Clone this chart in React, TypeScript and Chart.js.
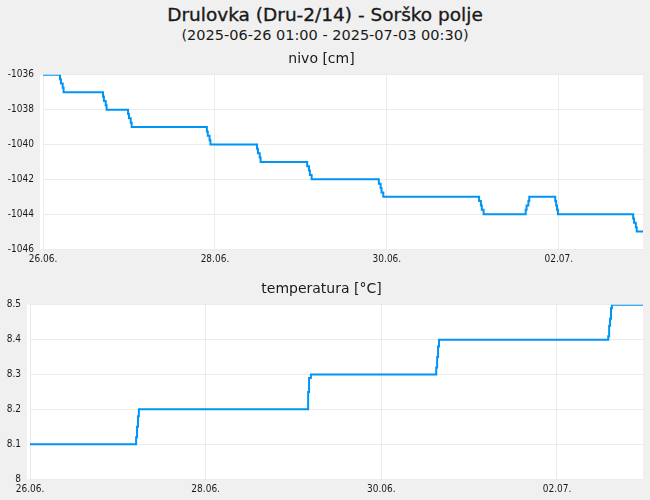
import { useEffect, useRef } from 'react';
import { Chart, registerables, type ChartConfiguration } from 'chart.js';

Chart.register(...registerables);

// hours counted from 2025-06-26 01:00
const tickHours = [0, 48, 96, 144];
const tickLabels = ['26.06.', '28.06.', '30.06.', '02.07.'];

const nivoHours = [
  0, 4.75, 5, 5.5, 5.75,
  16.75, 17, 17.5, 17.75,
  23.75, 24, 24.5, 24.75,
  45.75, 46, 46.5, 46.75,
  59.75, 60, 60.5, 60.75,
  73.75, 74.25, 74.5, 75,
  93.75, 94.25, 94.5, 95,
  121.75, 122.25, 122.5, 123,
  134.75, 135, 135.5, 135.75,
  143, 143.25, 143.5, 143.75,
  164.75, 165, 165.5, 165.75, 167.5,
];
const nivoValues = [
  -1036, -1036.25, -1036.5, -1036.75, -1037,
  -1037.25, -1037.5, -1037.75, -1038,
  -1038.25, -1038.5, -1038.75, -1039,
  -1039.25, -1039.5, -1039.75, -1040,
  -1040.25, -1040.5, -1040.75, -1041,
  -1041.25, -1041.5, -1041.75, -1042,
  -1042.25, -1042.5, -1042.75, -1043,
  -1043.25, -1043.5, -1043.75, -1044,
  -1043.75, -1043.5, -1043.25, -1043,
  -1043.25, -1043.5, -1043.75, -1044,
  -1044.25, -1044.5, -1044.75, -1045, -1045,
];

const tempHours = [
  0, 29, 29.25, 29.5, 29.75,
  76, 76.25, 76.75,
  111, 111.25, 111.5, 111.75,
  158, 158.25, 158.5, 158.75, 159, 167.5,
];
const tempValues = [
  8.1, 8.12, 8.15, 8.18, 8.2,
  8.25, 8.29, 8.3,
  8.32, 8.35, 8.38, 8.4,
  8.41, 8.44, 8.46, 8.49, 8.5, 8.5,
];

const LINE = '#0094f5';
const GRID = '#ebebeb';
const TEXT = '#1a1a1a';
const TICK_FONT = { family: '"DejaVu Sans Condensed", "DejaVu Sans", sans-serif', size: 10 };

const plotBg = {
  id: 'plotBg',
  beforeDraw(chart: Chart) {
    const { ctx, chartArea: { left, right, top, bottom } } = chart;
    ctx.save();
    ctx.fillStyle = '#ffffff';
    ctx.fillRect(left - 3, top, right - left + 3, bottom - top);
    ctx.restore();
  },
};

interface PanelProps {
  title: string;
  hours: number[];
  values: number[];
  yMin: number;
  yMax: number;
  yStep: number;
  yWidth: number;
  fmt: (v: number) => string;
  top: number;
  height: number;
  titlePad: { top: number; bottom: number };
  bottomPad: number;
}

function Panel({ title, hours, values, yMin, yMax, yStep, yWidth, fmt, top, height, titlePad, bottomPad }: PanelProps) {
  const ref = useRef<HTMLCanvasElement>(null);

  useEffect(() => {
    if (!ref.current) return;
    const config: ChartConfiguration<'line'> = {
      type: 'line',
      data: {
        datasets: [{
          data: hours.map((h, i) => ({ x: h, y: values[i] })),
          borderColor: LINE,
          borderWidth: 2,
          pointRadius: 0,
          stepped: true,
          fill: false,
        }],
      },
      options: {
        responsive: true,
        maintainAspectRatio: false,
        animation: false,
        layout: { padding: { left: 0, right: 7, top: 0, bottom: bottomPad } },
        plugins: {
          legend: { display: false },
          tooltip: { enabled: false },
          title: {
            display: true,
            text: title,
            color: TEXT,
            font: { family: '"DejaVu Sans", sans-serif', size: 14, weight: 'normal' },
            padding: titlePad,
          },
        },
        scales: {
          x: {
            type: 'linear',
            min: 0,
            max: 167.5,
            grid: { color: GRID, drawTicks: false },
            border: { display: false },
            afterBuildTicks: (s) => { s.ticks = tickHours.map(v => ({ value: v })); },
            ticks: {
              color: TEXT,
              font: TICK_FONT,
              padding: 4,
              maxRotation: 0,
              autoSkip: false,
              callback: (v) => tickLabels[tickHours.indexOf(Number(v))] ?? '',
            },
          },
          y: {
            min: yMin,
            max: yMax,
            grid: { color: GRID, drawTicks: false },
            border: { display: false },
            afterFit: (s) => { s.width = yWidth; },
            ticks: {
              stepSize: yStep,
              color: TEXT,
              font: TICK_FONT,
              padding: 9,
              callback: (v) => fmt(Number(v)),
            },
          },
        },
      },
      plugins: [plotBg],
    };
    const chart = new Chart(ref.current, config);
    return () => { chart.destroy(); };
  }, [title, hours, values, yMin, yMax, yStep, yWidth, fmt, titlePad, bottomPad]);

  return (
    <div style={{ position: 'absolute', left: 0, top, width: 650, height }}>
      <canvas ref={ref} />
    </div>
  );
}

const fmtInt = (v: number) => String(Math.round(v));
const fmtDec = (v: number) => String(Number(v.toFixed(1)));
const padA = { top: 5, bottom: 7 };
const padB = { top: 5, bottom: 7 };

export default function App() {
  return (
    <div style={{
      position: 'fixed', left: 0, top: 0, width: 650, height: 500,
      background: '#f0f0f0', fontFamily: '"DejaVu Sans", sans-serif', color: TEXT,
    }}>
      <div style={{
        position: 'absolute', left: 0, top: 5, width: 650, height: 20, lineHeight: '20px',
        fontSize: 18.5, textAlign: 'center', WebkitTextStroke: '0.35px #1a1a1a',
      }}>
        Drulovka (Dru-2/14) - Sorško polje
      </div>
      <div style={{ position: 'absolute', left: 0, top: 26, width: 650, height: 18, lineHeight: '18px', fontSize: 14.5, textAlign: 'center' }}>
        (2025-06-26 01:00 - 2025-07-03 00:30)
      </div>
      <Panel title="nivo [cm]" hours={nivoHours} values={nivoValues}
        yMin={-1046} yMax={-1036} yStep={2} yWidth={43} fmt={fmtInt}
        top={46} height={225} titlePad={padA} bottomPad={2} />
      <Panel title="temperatura [°C]" hours={tempHours} values={tempValues}
        yMin={8} yMax={8.5} yStep={0.1} yWidth={30} fmt={fmtDec}
        top={276} height={224} titlePad={padB} bottomPad={1} />
    </div>
  );
}
